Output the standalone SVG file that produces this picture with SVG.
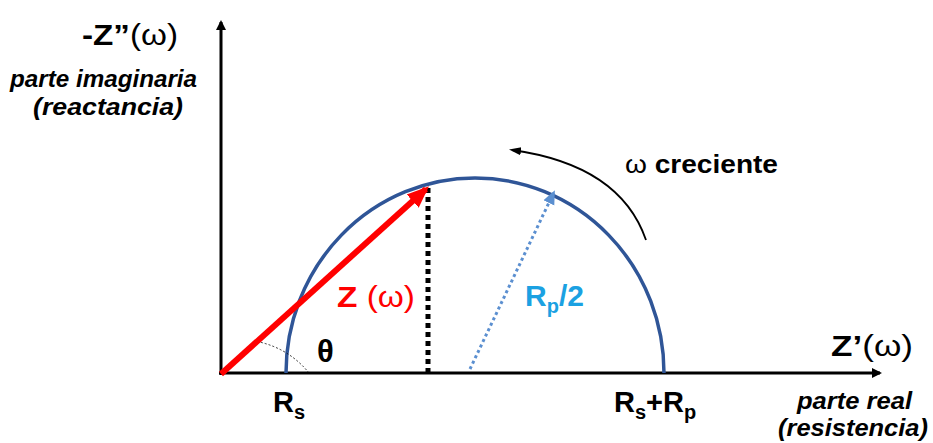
<svg xmlns="http://www.w3.org/2000/svg" width="933" height="443" viewBox="0 0 933 443">
<defs>
<style>
.t{font-family:"Liberation Sans",Arial,sans-serif;font-weight:bold;fill:#000}
.it{font-style:italic}
.n{font-weight:normal}
</style>
<marker id="ah" markerWidth="10" markerHeight="10" refX="8" refY="5" orient="auto" markerUnits="userSpaceOnUse"><path d="M0,0 L10,5 L0,10 z" fill="#000"/></marker>
<marker id="ahs" markerWidth="12" markerHeight="10" refX="9" refY="5" orient="auto" markerUnits="userSpaceOnUse"><path d="M0,1 L12,5 L0,9 z" fill="#000"/></marker>
<marker id="ahr" markerWidth="22" markerHeight="22" refX="18" refY="11" orient="auto" markerUnits="userSpaceOnUse"><path d="M0,2 L22,11 L0,20 z" fill="#ff0000"/></marker>
<marker id="ahb" markerWidth="14" markerHeight="14" refX="12" refY="7" orient="auto" markerUnits="userSpaceOnUse"><path d="M0,1 L14,7 L0,13 z" fill="#5b8fd0"/></marker>
</defs>
<rect width="933" height="443" fill="#fff"/>
<g id="connectors">
<line x1="221" y1="375" x2="221" y2="22" stroke="#000" stroke-width="3" marker-end="url(#ah)"/>
<line x1="219" y1="373" x2="880" y2="373" stroke="#000" stroke-width="3" marker-end="url(#ah)"/>
<path d="M286,373 A189,195 0 0 1 664,373" fill="none" stroke="#2f5597" stroke-width="3.5"/>
<path d="M309,373 A88,88 0 0 0 254,341" fill="none" stroke="#000" stroke-width="0.8" stroke-dasharray="2,2"/>
<line x1="428" y1="373" x2="428" y2="186" stroke="#000" stroke-width="5" stroke-dasharray="5,4"/>
<line x1="221" y1="374" x2="426" y2="189" stroke="#ff0000" stroke-width="6" marker-end="url(#ahr)"/>
<line x1="470" y1="369" x2="554" y2="192" stroke="#5b8fd0" stroke-width="3" stroke-dasharray="3,3" marker-end="url(#ahb)"/>
<path d="M646,240 Q620,165 512,150" fill="none" stroke="#000" stroke-width="1.8" marker-end="url(#ahs)"/>
</g>
<g id="y-label">
<text class="t" x="82" y="45" font-size="30" textLength="96" lengthAdjust="spacingAndGlyphs">-Z”<tspan class="n">(ω)</tspan></text>
<text class="t it" x="10" y="87" font-size="24" textLength="187" lengthAdjust="spacingAndGlyphs">parte imaginaria</text>
<text class="t it" x="33" y="115" font-size="24" textLength="150" lengthAdjust="spacingAndGlyphs">(reactancia)</text>
</g>
<g id="x-label">
<text class="t" x="831" y="356" font-size="30" textLength="82" lengthAdjust="spacingAndGlyphs">Z’<tspan class="n">(ω)</tspan></text>
<text class="t it" x="797" y="409" font-size="23" textLength="115" lengthAdjust="spacingAndGlyphs">parte real</text>
<text class="t it" x="778" y="436" font-size="23" textLength="150" lengthAdjust="spacingAndGlyphs">(resistencia)</text>
</g>
<g id="rs"><text class="t" x="273" y="412" font-size="29">R<tspan font-size="20" dy="7">s</tspan></text></g>
<g id="rsrp"><text class="t" x="614" y="412" font-size="29">R<tspan font-size="20" dy="7">s</tspan><tspan dy="-7">+R</tspan><tspan font-size="20" dy="7">p</tspan></text></g>
<g id="theta"><text class="t" x="317" y="362" font-size="31">θ</text></g>
<g id="z"><text class="t" x="337" y="307" font-size="29" style="fill:#ff0000" textLength="78" lengthAdjust="spacingAndGlyphs">Z <tspan class="n">(ω)</tspan></text></g>
<g id="rp2"><text class="t" x="525" y="306" font-size="30" style="fill:#1ba1e2">R<tspan font-size="20" dy="7">p</tspan><tspan dy="-7">/2</tspan></text></g>
<g id="omega"><text class="t" x="625" y="173" font-size="25" textLength="153" lengthAdjust="spacingAndGlyphs"><tspan class="n">ω</tspan> creciente</text></g>
</svg>
